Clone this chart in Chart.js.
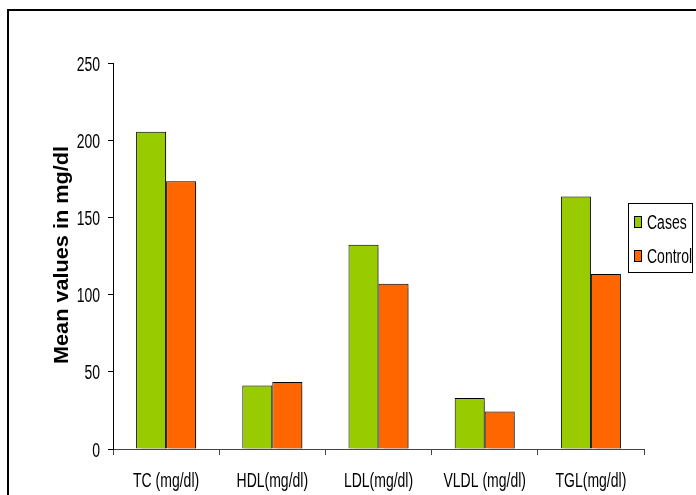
<!DOCTYPE html>
<html>
<head>
<meta charset="utf-8">
<script src="https://cdn.jsdelivr.net/npm/chart.js@4.4.1/dist/chart.umd.min.js"></script>
<style>
  body { margin: 0; background: #fff; }
  canvas { display: block; }
</style>
</head>
<body>
<canvas id="lipidChart" width="696" height="495"></canvas>
<script>
const categories = ["TC (mg/dl)", "HDL(mg/dl)", "LDL(mg/dl)", "VLDL (mg/dl)", "TGL(mg/dl)"];
const casesValues = [205.5, 41.2, 132.3, 33.1, 163.6];
const controlValues = [173.4, 43.4, 107.1, 24.3, 113.4];
const yTicks = [0, 50, 100, 150, 200, 250];
const seriesNames = ["Cases", "Control"];
const yTitle = "Mean values in mg/dl";

const green = "#99cc00";
const orange = "#ff6600";
const textFont = "14px 'Liberation Sans', Arial, sans-serif";

// text in the picture is tall and narrow, so stretch it vertically
const stretchText = (ctx, text, x, y, sx, sy, align) => {
  ctx.save();
  ctx.translate(x, y);
  ctx.scale(sx, sy);
  ctx.textAlign = align;
  ctx.textBaseline = "alphabetic";
  ctx.fillText(text, 0, 0);
  ctx.restore();
};

const decorations = {
  id: "decorations",
  beforeDatasetsDraw: (chart) => {
    const ctx = chart.ctx;
    ctx.save();
    ctx.shadowColor = "rgba(0,0,0,0.35)";
    ctx.shadowOffsetX = 2;
    ctx.shadowOffsetY = 1;
    ctx.shadowBlur = 1;
  },
  afterDatasetsDraw: (chart) => {
    chart.ctx.restore();
  },
  afterDraw: (chart) => {
    const ctx = chart.ctx;
    const xScale = chart.scales.x;
    const yScale = chart.scales.y;
    ctx.save();
    ctx.fillStyle = "#000";
    ctx.font = textFont;

    // outer frame
    ctx.strokeStyle = "#000";
    ctx.lineWidth = 2;
    ctx.strokeRect(8, 10, 900, 900);

    // y tick labels
    yTicks.forEach((v) => {
      const y = yScale.getPixelForValue(v);
      stretchText(ctx, String(v), 100, y + 7.5, 1, 1.45, "right");
    });

    // x category labels
    categories.forEach((c, i) => {
      const x = xScale.getPixelForValue(i);
      stretchText(ctx, c, x, 486.5, 1, 1.45, "center");
    });

    // y axis title
    ctx.font = "bold 14px 'Liberation Sans', Arial, sans-serif";
    const w = ctx.measureText(yTitle).width;
    ctx.save();
    ctx.translate(68, 255);
    ctx.rotate(-Math.PI / 2);
    ctx.scale(218 / w, 1.4);
    ctx.textAlign = "center";
    ctx.textBaseline = "alphabetic";
    ctx.fillText(yTitle, 0, 0);
    ctx.restore();

    // legend
    ctx.font = textFont;
    ctx.fillStyle = "#fff";
    ctx.fillRect(628.5, 203.5, 64, 69);
    ctx.lineWidth = 1;
    ctx.strokeStyle = "#000";
    ctx.strokeRect(628.5, 203.5, 64, 69);
    const legendColors = [green, orange];
    const legendTops = [216.5, 250.5];
    const legendBase = [229, 263];
    seriesNames.forEach((name, i) => {
      ctx.fillStyle = legendColors[i];
      ctx.fillRect(634.5, legendTops[i], 7, 11);
      ctx.strokeRect(634.5, legendTops[i], 7, 11);
      ctx.fillStyle = "#000";
      stretchText(ctx, name, 647, legendBase[i], 1, 1.4, "left");
    });
    ctx.restore();
  },
};

new Chart(document.querySelector("#lipidChart"), {
  type: "bar",
  data: {
    labels: categories,
    datasets: [
      {
        label: seriesNames[0],
        data: casesValues,
        backgroundColor: green,
        borderColor: "#000",
        borderWidth: 1,
        categoryPercentage: 0.565,
        barPercentage: 1,
      },
      {
        label: seriesNames[1],
        data: controlValues,
        backgroundColor: orange,
        borderColor: "#000",
        borderWidth: 1,
        categoryPercentage: 0.565,
        barPercentage: 1,
      },
    ],
  },
  options: {
    responsive: false,
    animation: false,
    layout: { padding: { left: 0, top: 63, right: 52, bottom: 0 } },
    plugins: {
      legend: { display: false },
      tooltip: { enabled: false },
    },
    scales: {
      x: {
        grid: {
          offset: true,
          drawOnChartArea: false,
          tickLength: 6,
          color: "#444",
        },
        border: { display: true, color: "#444", width: 1 },
        ticks: { display: false },
        afterFit: (scale) => {
          scale.height = 46;
        },
      },
      y: {
        min: 0,
        max: 250,
        grid: {
          drawOnChartArea: false,
          tickLength: 5,
          color: "#000",
        },
        border: { display: true, color: "#000", width: 1 },
        ticks: { display: false, stepSize: 50 },
        afterFit: (scale) => {
          scale.width = 113;
        },
      },
    },
  },
  plugins: [decorations],
});
</script>
</body>
</html>
